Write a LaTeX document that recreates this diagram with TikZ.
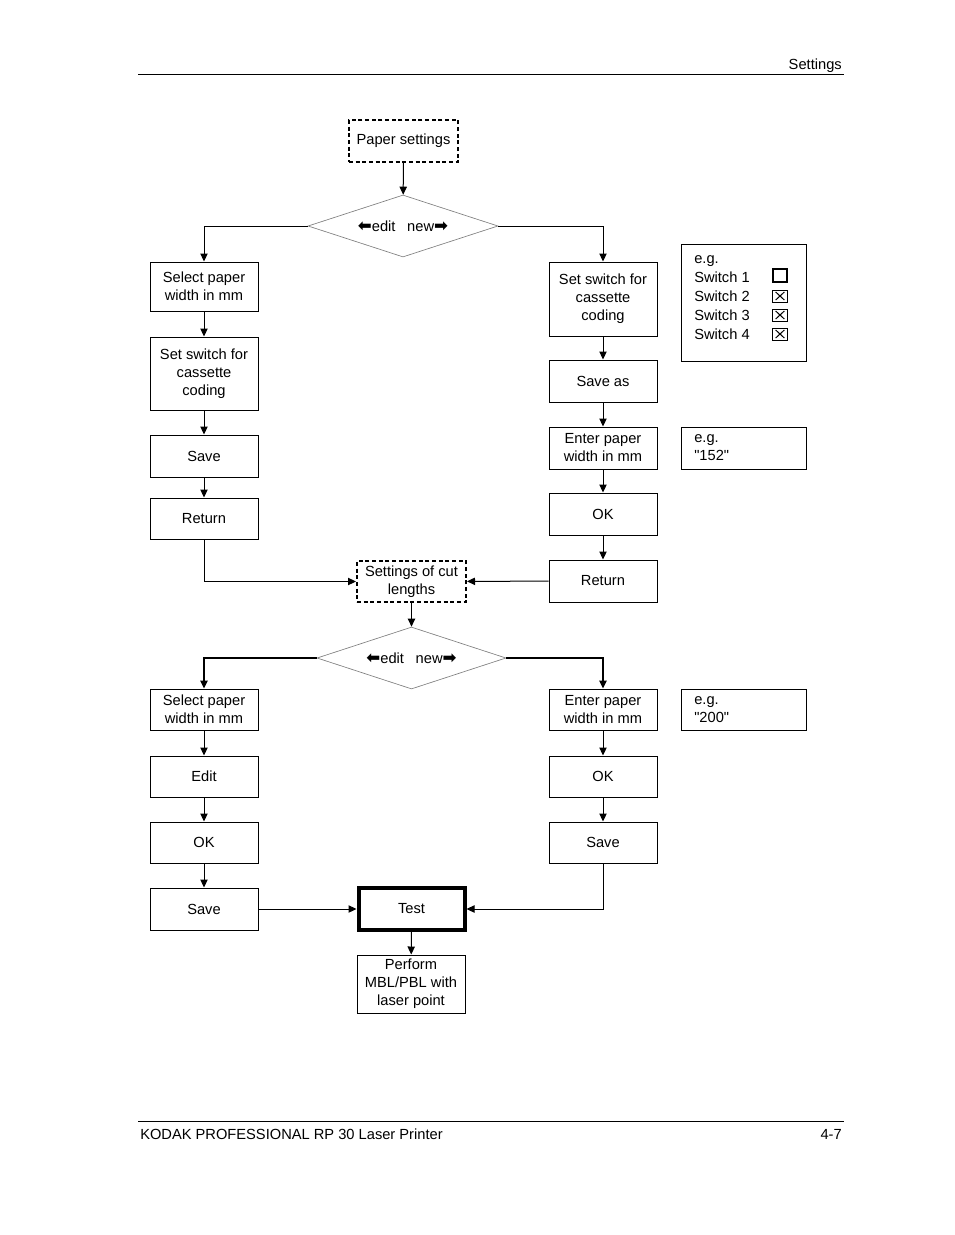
\documentclass[tikz,border=0pt]{standalone}
\usepackage{fontspec}
\setmainfont{Liberation Sans}
\newfontfamily\arrowfont{DejaVu Sans}
\usetikzlibrary{arrows.meta,shapes.geometric}
\newcommand{\editnew}{{\arrowfont\bfseries\fontsize{12.5}{12}\selectfont ⬅}edit\hspace{0.8em}new{\arrowfont\bfseries\fontsize{12.5}{12}\selectfont ➡}}

\begin{document}
\begin{tikzpicture}%
        [x=0.75pt,
        y=-0.75pt,
        font=\fontsize{11}{13.5}\selectfont,
        step box/.style={draw, line width=0.75pt, align=center, inner sep=0pt, minimum width=81pt, minimum height=31.5pt},
        dash box/.style={step box, dashed, line width=1.5pt, dash pattern=on 3pt off 2pt},
        test box/.style={step box, line width=3pt},
        note/.style={draw, line width=0.75pt, inner sep=0pt, minimum width=93.75pt, minimum height=31.5pt},
        note text/.style={align=left, inner sep=0pt, anchor=north west},
        choice/.style={diamond, draw=gray, line width=0.5pt, inner sep=0pt, aspect=3, minimum width=142.5pt, minimum height=46.5pt},
        flow/.style={line width=0.75pt, -{Triangle[width=5.5pt,length=6pt]}},
        thick flow/.style={flow, line width=1.5pt},
        check/.style={draw, inner sep=0pt, minimum width=11.5pt, minimum height=9pt, line width=0.75pt}]
    %
    \useasboundingbox (0,0) rectangle (954,1235);
    %
    %% Page header and footer
    \draw[line width=0.75pt] (138,74) -- (844,74);
    \draw[line width=0.75pt] (138,1121) -- (844,1121);
    \node[anchor=base east, inner sep=0pt] (head) at (842,69) {Settings};
    \node[anchor=base west, inner sep=0pt] (foot) at (140,1139) {KODAK PROFESSIONAL RP 30 Laser Printer};
    \node[anchor=base east, inner sep=0pt] (page) at (842,1139) {4-7};
    %
    %% Paper settings
    \node[dash box, minimum width=81.75pt] (paper) at (403.5,141) {Paper settings};
    \node[choice] (d1) at (403,226) {\editnew};
    %%
    %% edit branch
    \node[step box, minimum height=36.75pt] (lsel) at (204,286.5) {Select paper\\width in mm};
    \node[step box, minimum height=54.75pt] (lsw) at (204,373.5) {Set switch for\\cassette\\coding};
    \node[step box] (lsave) at (204,456) {Save};
    \node[step box, minimum height=30.75pt] (lret) at (204,518.5) {Return};
    %%
    %% new branch
    \node[step box, minimum height=55.5pt] (rsw) at (603,299) {Set switch for\\cassette\\coding};
    \node[step box] (rsaveas) at (603,381) {Save as};
    \node[step box] (renter) at (603,448) {Enter paper\\width in mm};
    \node[step box] (rok) at (603,514) {OK};
    \node[step box] (rret) at (603,581) {Return};
    %%
    %% examples
    \node[note, minimum height=87.75pt] (nsw) at (743.5,302.5) {};
    \node[note text, font=\fontsize{11}{14.25}\selectfont] (nswtext) at (694,255.5) {e.g.\\Switch 1\\Switch 2\\Switch 3\\Switch 4};
    \node[check, minimum width=10pt, minimum height=10pt, line width=1.5pt] (sw1) at (780,275.5) {};
    \foreach \name/\ypos in {sw2/296, sw3/315, sw4/334}
        \node[check, path picture={\draw[line width=0.75pt]
            ([shift={(2.5pt,-1.5pt)}]path picture bounding box.north west) -- ([shift={(-2.5pt,1.5pt)}]path picture bounding box.south east)
            ([shift={(2.5pt,1.5pt)}]path picture bounding box.south west) -- ([shift={(-2.5pt,-1.5pt)}]path picture bounding box.north east);}]
            (\name) at (780,\ypos) {};
    \node[note] (n152) at (743.5,448) {};
    \node[note text] (n152text) at (694,434.5) {e.g.\\\textquotedbl 152\textquotedbl};
    %%
    %% Settings of cut lengths
    \node[dash box, minimum width=81.75pt, minimum height=30.75pt] (cut) at (411.5,581.5) {Settings of cut\\lengths};
    \node[choice, minimum width=141.75pt] (d2) at (411.5,658) {\editnew};
    %%
    \node[step box, minimum height=30.75pt] (lsel2) at (204,709.5) {Select paper\\width in mm};
    \node[step box, minimum height=30.75pt] (ledit) at (204,776.5) {Edit};
    \node[step box, minimum height=30.75pt] (lok) at (204,842.5) {OK};
    \node[step box] (lsave2) at (204,909) {Save};
    %%
    \node[step box, minimum height=30.75pt] (renter2) at (603,709.5) {Enter paper\\width in mm};
    \node[step box, minimum height=30.75pt] (rok2) at (603,776.5) {OK};
    \node[step box, minimum height=30.75pt] (rsave2) at (603,842.5) {Save};
    \node[note, minimum height=30.75pt] (n200) at (743.5,709.5) {};
    \node[note text] (n200text) at (694,696.5) {e.g.\\\textquotedbl 200\textquotedbl};
    %%
    \node[test box, minimum width=79.5pt, minimum height=31pt] (test) at (411.5,909) {Test};
    \node[step box, minimum height=43.5pt] (perf) at (411,984) {Perform\\MBL/PBL with\\laser point};
    %%
    %% Drawing the connectors
    \draw[flow] (paper) -- (d1);
    \draw[flow] (d1.west) -| (lsel.north);
    \draw[flow] (d1.east) -| (rsw.north);
    \draw[flow] (lsel) -- (lsw);
    \draw[flow] (lsw) -- (lsave);
    \draw[flow] (lsave) -- (lret);
    \draw[flow] (lret.south) |- (cut.west);
    \draw[flow] (rsw) -- (rsaveas);
    \draw[flow] (rsaveas) -- (renter);
    \draw[flow] (renter) -- (rok);
    \draw[flow] (rok) -- (rret);
    \draw[flow] (rret) -- (cut);
    \draw[flow] (cut) -- (d2);
    \draw[thick flow] (d2.west) -| (lsel2.north);
    \draw[thick flow] (d2.east) -| (renter2.north);
    \draw[flow] (lsel2) -- (ledit);
    \draw[flow] (ledit) -- (lok);
    \draw[flow] (lok) -- (lsave2);
    \draw[flow] (lsave2) -- (test);
    \draw[flow] (renter2) -- (rok2);
    \draw[flow] (rok2) -- (rsave2);
    \draw[flow] (rsave2.south) |- (test.east);
    \draw[flow] (test) -- (perf);
    %%
\end{tikzpicture}
\end{document}
